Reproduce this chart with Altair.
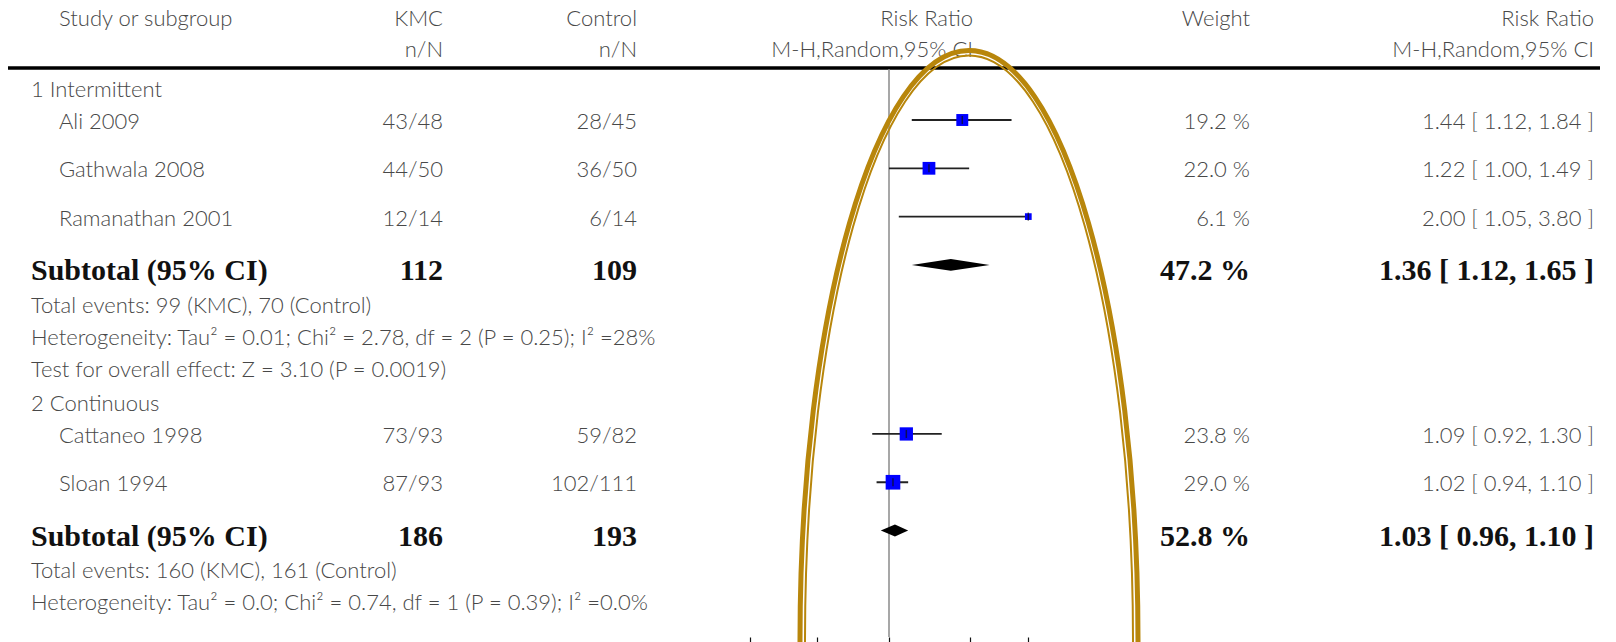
import altair as alt
import pandas as pd

# ---------------- data ----------------
header_top = ["Study or subgroup", "KMC", "Control", "Risk Ratio", "Weight", "Risk Ratio"]
header_sub = ["", "n/N", "n/N", "M-H,Random,95% CI", "", "M-H,Random,95% CI"]

groups = ["1 Intermittent", "2 Continuous"]

study_names = ["Ali 2009", "Gathwala 2008", "Ramanathan 2001", "Cattaneo 1998", "Sloan 1994"]
study_group = [0, 0, 0, 1, 1]
kmc_events = [43, 44, 12, 73, 87]
kmc_total = [48, 50, 14, 93, 93]
ctrl_events = [28, 36, 6, 59, 102]
ctrl_total = [45, 50, 14, 82, 111]
rr = [1.44, 1.22, 2.00, 1.09, 1.02]
rr_lo = [1.12, 1.00, 1.05, 0.92, 0.94]
rr_hi = [1.84, 1.49, 3.80, 1.30, 1.10]
weight = [19.2, 22.0, 6.1, 23.8, 29.0]

sub_kmc = [112, 186]
sub_ctrl = [109, 193]
sub_rr = [1.36, 1.03]
sub_lo = [1.12, 0.96]
sub_hi = [1.65, 1.10]
sub_weight = [47.2, 52.8]

info_lines = [
    ["Total events: 99 (KMC), 70 (Control)",
     "Heterogeneity: Tau² = 0.01; Chi² = 2.78, df = 2 (P = 0.25); I² =28%",
     "Test for overall effect: Z = 3.10 (P = 0.0019)"],
    ["Total events: 160 (KMC), 161 (Control)",
     "Heterogeneity: Tau² = 0.0; Chi² = 0.74, df = 1 (P = 0.39); I² =0.0%"],
]

axis_ticks = [0.5, 0.7, 1, 1.5, 2]

# ---------------- layout (row slots) ----------------
W, H = 1600, 629
S_HEAD1, S_HEAD2, S_RULE = -6.37, -4.45, -3.23
DIAMOND_HALF = 0.37

def fmt_ci(a, b, c):
    return f"{a:.2f} [ {b:.2f}, {c:.2f} ]"

reg_rows = []   # regular text cells
bold_rows = []  # subtotal cells
study_rows = []
diamond_rows = []

# headers
for k, t in enumerate(header_top):
    reg_rows.append(dict(s=S_HEAD1, col=k, text=t, indent=1))
for k, t in enumerate(header_sub):
    if t:
        reg_rows.append(dict(s=S_HEAD2, col=k, text=t, indent=1))

s = None
for g, gname in enumerate(groups):
    s = -2.0 if s is None else s + 2.1
    reg_rows.append(dict(s=s, col=0, text=gname, indent=0))
    prev = "group"
    for i, name in enumerate(study_names):
        if study_group[i] != g:
            continue
        s += 2.0 if prev == "group" else 3.0
        prev = "study"
        reg_rows += [
            dict(s=s, col=0, text=name, indent=1),
            dict(s=s, col=1, text=f"{kmc_events[i]}/{kmc_total[i]}", indent=1),
            dict(s=s, col=2, text=f"{ctrl_events[i]}/{ctrl_total[i]}", indent=1),
            dict(s=s, col=4, text=f"{weight[i]:.1f} %", indent=1),
            dict(s=s, col=5, text=fmt_ci(rr[i], rr_lo[i], rr_hi[i]), indent=1),
        ]
        study_rows.append(dict(s=s, rr=rr[i], lo=rr_lo[i], hi=rr_hi[i], w=weight[i]))
    s += 3.0
    bold_rows += [
        dict(s=s, col=0, text="Subtotal (95% CI)", indent=0),
        dict(s=s, col=1, text=str(sub_kmc[g]), indent=0),
        dict(s=s, col=2, text=str(sub_ctrl[g]), indent=0),
        dict(s=s, col=4, text=f"{sub_weight[g]:.1f} %", indent=0),
        dict(s=s, col=5, text=fmt_ci(sub_rr[g], sub_lo[g], sub_hi[g]), indent=0),
    ]
    for xv, half in [(sub_lo[g], 0.0), (sub_rr[g], DIAMOND_HALF), (sub_hi[g], 0.0)]:
        diamond_rows.append(dict(g=g, x=xv, y1=s - half, y2=s + half))
    for j, line in enumerate(info_lines[g]):
        s += 2.4 if j == 0 else 2.0
        reg_rows.append(dict(s=s, col=0, text=line, indent=0))

reg_df = pd.DataFrame(reg_rows)
bold_df = pd.DataFrame(bold_rows)
study_df = pd.DataFrame(study_rows)
diamond_df = pd.DataFrame(diamond_rows)

yscale = alt.Scale(domain=[0, 10], range=[112, 273], zero=False, nice=False)
xscale = alt.Scale(type="log", domain=[0.5, 2], range=[741.7, 1020.3], clamp=True, nice=False)
xaxis = alt.Axis(values=axis_ticks, tickSize=8, tickWidth=1.2, tickColor="#111",
                 domain=False, grid=False, title=None, labels=False)

Y = alt.Y("s:Q", scale=yscale, axis=None)

# column specs: (col index, x pixel, align)
col_specs = [(1, 435, "right"), (2, 629, "right"), (3, 965, "right"),
             (4, 1242, "right"), (5, 1586, "right")]

REG_FONT = "Lato"
REG_SIZE = 22
REG_WEIGHT = 300
REG_COLOR = "#484848"
REG_DY = 2
BOLD_FONT = "Liberation Serif"
BOLD_SIZE = 30
BOLD_DY = 6

layers = []

def text_layer(df, x, align, font, size, weight, color, dy=0):
    return alt.Chart(df).mark_text(
        align=align, baseline="middle", font=font, fontSize=size,
        fontWeight=weight, color=color, dy=dy
    ).encode(x=alt.value(x), y=Y, text="text:N")

# left column
layers.append(text_layer(reg_df[(reg_df.col == 0) & (reg_df.indent == 1)], 51, "left",
                         REG_FONT, REG_SIZE, REG_WEIGHT, REG_COLOR, REG_DY))
layers.append(text_layer(reg_df[(reg_df.col == 0) & (reg_df.indent == 0)], 23, "left",
                         REG_FONT, REG_SIZE, REG_WEIGHT, REG_COLOR, REG_DY))
layers.append(text_layer(bold_df[bold_df.col == 0], 23, "left",
                         BOLD_FONT, BOLD_SIZE, "bold", "#111", BOLD_DY))
for c, xp, al in col_specs:
    d = reg_df[reg_df.col == c]
    if len(d):
        layers.append(text_layer(d, xp, al, REG_FONT, REG_SIZE, REG_WEIGHT, REG_COLOR, REG_DY))
    d = bold_df[bold_df.col == c]
    if len(d):
        layers.append(text_layer(d, xp, al, BOLD_FONT, BOLD_SIZE, "bold", "#111", BOLD_DY))

# header rule
layers.append(alt.Chart(pd.DataFrame({"s": [S_RULE]})).mark_rule(
    color="#000", strokeWidth=3.5).encode(x=alt.value(0), x2=alt.value(1592), y=Y))

# reference line at RR = 1
layers.append(alt.Chart(pd.DataFrame({"v": [1.0]})).mark_rule(
    color="#8a8a8a", strokeWidth=1.5).encode(
    x=alt.X("v:Q", scale=xscale, axis=xaxis), y=alt.value(61), y2=alt.value(H)))

# CI lines
layers.append(alt.Chart(study_df).mark_rule(color="#222", strokeWidth=1.8).encode(
    x=alt.X("lo:Q", scale=xscale, axis=xaxis), x2="hi:Q", y=Y))
# squares
layers.append(alt.Chart(study_df).mark_square(color="#0000ff", opacity=1).encode(
    x=alt.X("rr:Q", scale=xscale, axis=xaxis), y=Y,
    size=alt.Size("w:Q", scale=alt.Scale(domain=[0, 29], range=[0, 215]), legend=None)))
# point ticks
layers.append(alt.Chart(study_df).mark_tick(orient="vertical", color="#111", size=8,
                                            thickness=1.5).encode(
    x=alt.X("rr:Q", scale=xscale, axis=xaxis), y=Y))
# diamonds
layers.append(alt.Chart(diamond_df).mark_area(orient="vertical", color="#000", opacity=1).encode(
    x=alt.X("x:Q", scale=xscale, axis=xaxis), y=alt.Y("y1:Q", scale=yscale, axis=None),
    y2="y2:Q", detail="g:N"))

# hand-drawn gold ellipse annotation (double line)
def ellipse_path(a, b):
    k = 0.5523
    ka, kb = k * a, k * b
    return (f"M {a} 0 C {a} {kb} {ka} {b} 0 {b} C {-ka} {b} {-a} {kb} {-a} 0 "
            f"C {-a} {-kb} {-ka} {-b} 0 {-b} C {ka} {-b} {a} {-kb} {a} 0 Z")

UNIT = 100.0  # px per path unit
for a_px, b_px, sw in [(169, 589.5, 5), (164, 584.5, 2)]:
    layers.append(alt.Chart(pd.DataFrame({"k": [0]})).mark_point(
        shape=ellipse_path(a_px / UNIT, b_px / UNIT), size=(2 * UNIT) ** 2,
        filled=False, stroke="#b8860b", strokeWidth=sw, opacity=1, fill=None
    ).encode(x=alt.value(961), y=alt.value(632)))

chart = alt.layer(*layers).properties(
    width=W, height=H,
    autosize=alt.AutoSizeParams(type="none"),
    padding={"left": 0, "top": 0, "right": 0, "bottom": 5},
).configure_view(strokeWidth=0)

chart.save("out.html", embed_options={"renderer": "svg", "actions": False})
